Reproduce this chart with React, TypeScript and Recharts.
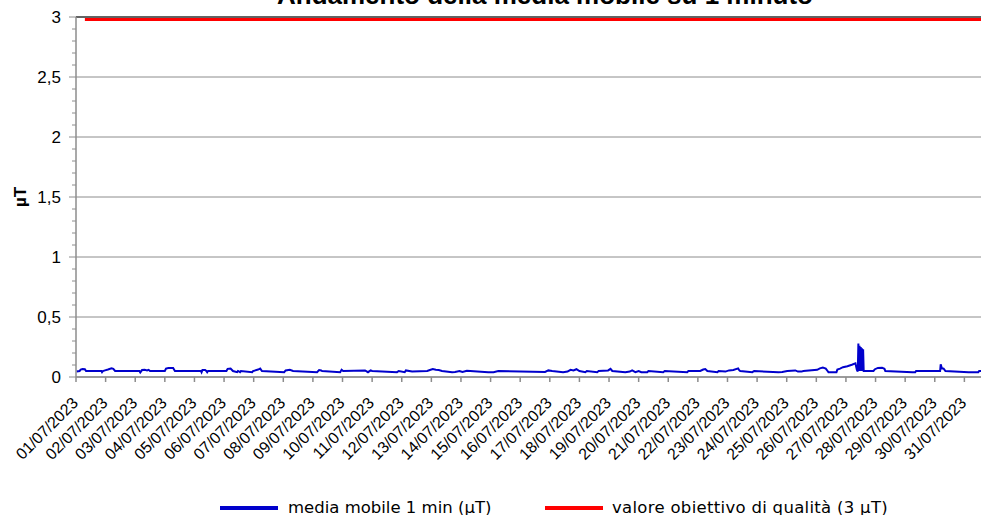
import React from 'react';
import { LineChart, Line, XAxis, YAxis, CartesianGrid, ReferenceLine, Legend } from 'recharts';

const dayLabels = [
  '01/07/2023', '02/07/2023', '03/07/2023', '04/07/2023', '05/07/2023', '06/07/2023',
  '07/07/2023', '08/07/2023', '09/07/2023', '10/07/2023', '11/07/2023', '12/07/2023',
  '13/07/2023', '14/07/2023', '15/07/2023', '16/07/2023', '17/07/2023', '18/07/2023',
  '19/07/2023', '20/07/2023', '21/07/2023', '22/07/2023', '23/07/2023', '24/07/2023',
  '25/07/2023', '26/07/2023', '27/07/2023', '28/07/2023', '29/07/2023', '30/07/2023',
  '31/07/2023',
];
const tickDays = [0, 1, 2, 3, 4, 5, 6, 7, 8, 9, 10, 11, 12, 13, 14, 15, 16, 17, 18, 19, 20, 21, 22, 23, 24, 25, 26, 27, 28, 29, 30];

// time in days since 01/07/2023 00:00
const mediaTimes = [
  0.02, 0.12, 0.16, 0.22, 0.30, 0.34, 0.86, 0.88, 0.91, 0.98, 1.08, 1.20, 1.26, 1.32,
  2.14, 2.17, 2.23, 2.32, 2.40, 2.45, 2.50, 3.00, 3.04, 3.12, 3.28, 3.34,
  4.22, 4.24, 4.27, 4.36, 4.40, 4.43, 4.46, 5.08, 5.12, 5.22, 5.30, 5.44, 5.47, 5.54, 5.57,
  5.95, 5.98, 6.15, 6.22, 6.28, 7.03, 7.08, 7.22, 7.33, 8.14, 8.21, 8.28, 8.31,
  8.92, 8.97, 9.02, 9.76, 9.86, 9.95, 10.00, 10.84, 10.90, 11.10, 11.14, 11.35,
  11.86, 11.95, 12.05, 12.15, 12.25, 12.36, 12.70, 12.80, 12.95, 13.05, 13.20, 13.31,
  13.92, 14.10, 14.26, 15.84, 15.95, 16.08, 16.45, 16.60, 16.70, 16.80, 16.90, 17.00,
  17.20, 17.25, 17.60, 17.65, 17.97, 18.05, 18.11, 18.55, 18.70, 18.78, 18.89, 19.00,
  19.09, 19.29, 19.33, 19.83, 19.88, 20.64, 20.68, 21.08, 21.18, 21.25, 21.32, 21.66, 21.70,
  21.93, 22.05, 22.20, 22.36, 22.40, 22.43, 22.84, 22.90, 23.72, 23.85, 24.02, 24.29,
  24.38, 24.50, 24.56, 25.03, 25.12, 25.22, 25.32, 25.38, 25.41, 25.68, 25.71, 25.80,
  25.90, 26.05, 26.20, 26.32, 26.37, 26.40, 26.42, 26.44, 26.46, 26.48, 26.50, 26.52,
  26.54, 26.56, 26.58, 26.60, 26.93, 26.98, 27.08, 27.22, 27.30, 27.33, 28.24, 28.34,
  28.37, 29.18, 29.20, 29.24, 29.30, 29.36, 30.14, 30.47, 30.50, 31.00,
];
const mediaValues = [
  0.045, 0.05, 0.062, 0.066, 0.064, 0.05, 0.05, 0.04, 0.05, 0.055, 0.062, 0.072, 0.068, 0.05,
  0.05, 0.038, 0.058, 0.06, 0.055, 0.06, 0.05, 0.05, 0.07, 0.075, 0.075, 0.05,
  0.05, 0.04, 0.058, 0.058, 0.05, 0.04, 0.05, 0.05, 0.068, 0.07, 0.05, 0.04, 0.05, 0.04, 0.05,
  0.04, 0.05, 0.062, 0.07, 0.05, 0.04, 0.055, 0.06, 0.05, 0.04, 0.058, 0.055, 0.05,
  0.04, 0.06, 0.05, 0.055, 0.04, 0.055, 0.05, 0.04, 0.05, 0.04, 0.055, 0.045,
  0.05, 0.058, 0.066, 0.06, 0.058, 0.05, 0.04, 0.042, 0.05, 0.042, 0.052, 0.05,
  0.04, 0.04, 0.05, 0.042, 0.055, 0.05, 0.04, 0.045, 0.06, 0.055, 0.065, 0.05,
  0.04, 0.05, 0.04, 0.05, 0.055, 0.068, 0.05, 0.04, 0.045, 0.055, 0.04, 0.05,
  0.04, 0.04, 0.05, 0.04, 0.05, 0.04, 0.05, 0.05, 0.062, 0.066, 0.05, 0.04, 0.05,
  0.045, 0.055, 0.058, 0.072, 0.055, 0.05, 0.04, 0.05, 0.04, 0.042, 0.05, 0.055,
  0.045, 0.045, 0.05, 0.06, 0.072, 0.078, 0.07, 0.05, 0.04, 0.04, 0.062, 0.07,
  0.082, 0.09, 0.102, 0.114, 0.06, 0.045, 0.28, 0.05, 0.26, 0.05, 0.25, 0.05,
  0.24, 0.05, 0.23, 0.05, 0.05, 0.065, 0.076, 0.078, 0.068, 0.05, 0.04, 0.04,
  0.05, 0.05, 0.105, 0.072, 0.07, 0.05, 0.04, 0.04, 0.05, 0.05,
];
const limitTimes = [0.3, 31];
const limitValues = [2.98, 2.98];

const yMajorTicks = [0, 0.5, 1, 1.5, 2, 2.5, 3];
const yAllTicks = [0, 0.1, 0.2, 0.3, 0.4, 0.5, 0.6, 0.7, 0.8, 0.9, 1, 1.1, 1.2, 1.3, 1.4, 1.5, 1.6, 1.7, 1.8, 1.9, 2, 2.1, 2.2, 2.3, 2.4, 2.5, 2.6, 2.7, 2.8, 2.9, 3];

const mediaData = mediaTimes.map((t, i) => ({ t, v: mediaValues[i] }));
const limitData = limitTimes.map((t, i) => ({ t, v: limitValues[i] }));

const FONT = '"Liberation Sans", Arial, sans-serif';
const AXIS_GRAY = '#8c8c8c';

const XTick = (props: any) => {
  const { x, y, payload } = props;
  const ax = x + 3;
  const ay = y + 22;
  return (
    <text
      x={ax}
      y={ay}
      transform={`rotate(-45 ${ax} ${ay})`}
      textAnchor="end"
      fontFamily={FONT}
      fontSize={16}
      fill="#000"
    >
      {dayLabels[payload.value]}
    </text>
  );
};

const YTick = (props: any) => {
  const { x, y, payload } = props;
  const v = Number(payload.value);
  const isMajor = yMajorTicks.some((m) => Math.abs(m - v) < 1e-6);
  const len = isMajor ? 7 : 4;
  return (
    <g>
      <line x1={x - len} x2={x} y1={y} y2={y} stroke={AXIS_GRAY} strokeWidth={1} />
      {isMajor && (
        <text x={x - 15} y={y} dy="0.355em" textAnchor="end" fontFamily={FONT} fontSize={17} fill="#000">
          {String(v).replace('.', ',')}
        </text>
      )}
    </g>
  );
};

const LegendContent = () => (
  <div style={{ position: 'relative', width: 1010, height: 20, fontFamily: '"DejaVu Sans", sans-serif', fontSize: 16.5, color: '#000' }}>
    <div style={{ position: 'absolute', left: 220, top: 8, width: 58, height: 4, background: '#0000CC' }} />
    <span style={{ position: 'absolute', left: 288, top: 0, lineHeight: '20px', whiteSpace: 'nowrap' }}>media mobile 1 min (µT)</span>
    <div style={{ position: 'absolute', left: 545, top: 8, width: 58, height: 4, background: '#FF0000' }} />
    <span style={{ position: 'absolute', left: 612, top: 0, lineHeight: '20px', whiteSpace: 'nowrap', letterSpacing: 0.3 }}>valore obiettivo di qualità (3 µT)</span>
  </div>
);

export default function App() {
  return (
    <div style={{ position: 'absolute', left: 0, top: 0, width: 981, height: 515, overflow: 'hidden', background: '#fff' }}>
      <div
        style={{
          position: 'absolute', left: 0, top: -18, width: 1090, textAlign: 'center',
          fontFamily: FONT, fontWeight: 'bold', fontSize: 26, lineHeight: '26px', color: '#000', whiteSpace: 'nowrap',
        }}
      >
        Andamento della media mobile su 1 minuto
      </div>
      <div
        style={{
          position: 'absolute', left: 21, top: 197, transform: 'translate(-50%, -50%) rotate(-90deg)',
          fontFamily: FONT, fontWeight: 'bold', fontSize: 17, color: '#000', whiteSpace: 'nowrap',
        }}
      >
        µT
      </div>
      <LineChart width={1010} height={515} margin={{ top: 17, right: 16, left: 0, bottom: 108 }}>
        <CartesianGrid vertical={false} horizontalValues={yMajorTicks} stroke={AXIS_GRAY} strokeWidth={1} />
        <XAxis
          dataKey="t"
          type="number"
          domain={[0, 31]}
          ticks={tickDays}
          allowDataOverflow
          height={30}
          tickSize={5}
          tickMargin={0}
          interval={0}
          stroke={AXIS_GRAY}
          strokeWidth={1.5}
          tick={<XTick />}
        />
        <YAxis
          type="number"
          domain={[0, 3]}
          ticks={yAllTicks}
          width={76}
          tickSize={0}
          tickMargin={0}
          interval={0}
          tickLine={false}
          axisLine={{ stroke: AXIS_GRAY, strokeWidth: 1.5 }}
          tick={<YTick />}
        />
        <ReferenceLine y={3} stroke="#000" strokeWidth={1} />
        <Line
          data={limitData}
          dataKey="v"
          type="linear"
          stroke="#FF0000"
          strokeWidth={3}
          dot={false}
          isAnimationActive={false}
          name="valore obiettivo di qualità (3 µT)"
        />
        <Line
          data={mediaData}
          dataKey="v"
          type="linear"
          stroke="#0000CC"
          strokeWidth={2}
          dot={false}
          isAnimationActive={false}
          name="media mobile 1 min (µT)"
        />
        <Legend
          verticalAlign="middle"
          layout="horizontal"
          content={<LegendContent />}
          wrapperStyle={{ position: 'absolute', top: 498, left: 0, width: 1010, height: 20 }}
        />
      </LineChart>
    </div>
  );
}
